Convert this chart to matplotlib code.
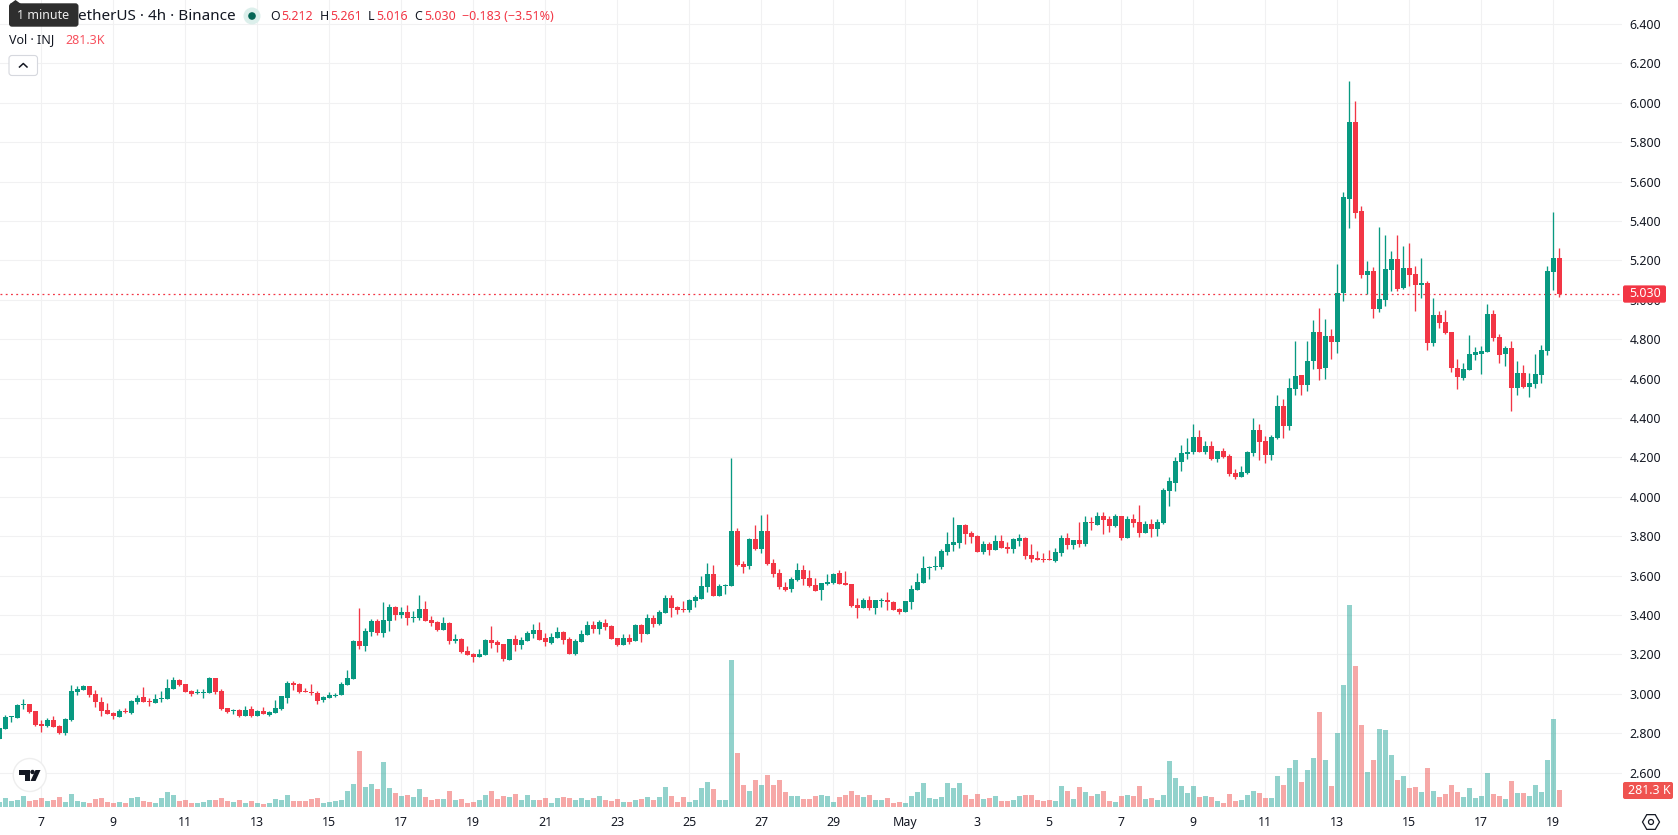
import matplotlib
matplotlib.use('Agg')
import numpy as np
import matplotlib.pyplot as plt
from matplotlib.patches import FancyBboxPatch, Circle, Polygon, RegularPolygon

W, H = 1678, 835
plt.rcParams['font.family'] = ['Noto Sans', 'DejaVu Sans']

# INJ/USDT 4h candles
opens = [2.771,2.823,2.881,2.879,2.945,2.948,2.913,2.847,2.837,2.867,2.837,2.801,2.867,3.009,3.019,3.040,2.999,2.958,2.918,2.902,
         2.882,2.914,2.901,2.958,2.984,2.963,2.953,2.974,2.974,3.024,3.070,3.050,3.014,3.006,3.006,3.004,3.080,3.014,2.928,2.914,
         2.918,2.887,2.923,2.887,2.913,2.892,2.902,2.923,2.979,3.055,3.050,3.014,3.011,3.004,2.968,2.979,2.989,2.994,3.045,3.075,
         3.268,3.243,3.314,3.370,3.309,3.370,3.441,3.400,3.415,3.386,3.385,3.430,3.375,3.364,3.324,3.359,3.268,3.278,3.217,3.202,
         3.187,3.197,3.273,3.263,3.253,3.172,3.278,3.248,3.268,3.304,3.324,3.283,3.258,3.283,3.314,3.278,3.202,3.263,3.298,3.349,
         3.329,3.359,3.344,3.283,3.248,3.283,3.268,3.349,3.304,3.385,3.354,3.410,3.486,3.441,3.430,3.425,3.471,3.481,3.542,3.608,
         3.496,3.549,3.547,3.826,3.659,3.649,3.786,3.735,3.826,3.664,3.613,3.542,3.532,3.578,3.628,3.588,3.552,3.527,3.557,3.562,
         3.613,3.562,3.557,3.451,3.436,3.476,3.436,3.471,3.476,3.466,3.430,3.415,3.466,3.527,3.562,3.638,3.644,3.644,3.720,3.755,
         3.765,3.857,3.816,3.801,3.720,3.760,3.730,3.776,3.745,3.735,3.776,3.791,3.705,3.689,3.684,3.684,3.674,3.715,3.791,3.755,
         3.781,3.760,3.872,3.857,3.903,3.887,3.852,3.903,3.791,3.887,3.872,3.816,3.862,3.836,3.867,4.029,4.070,4.177,4.217,4.227,
         4.304,4.227,4.258,4.192,4.232,4.207,4.121,4.100,4.121,4.222,4.339,4.283,4.212,4.298,4.461,4.359,4.547,4.618,4.568,4.689,
         4.837,4.654,4.816,4.786,5.035,5.512,5.903,5.451,5.126,5.146,4.953,4.999,5.151,5.207,5.060,5.161,5.131,5.075,5.085,4.781,
         4.923,4.887,4.837,4.654,4.603,4.644,4.720,4.725,4.735,4.928,4.811,4.725,4.755,4.552,4.628,4.557,4.573,4.618,4.740,5.141,
         5.212]
highs = [2.825,2.892,2.886,2.950,2.972,2.948,2.913,2.865,2.877,2.886,2.842,2.875,3.045,3.040,3.045,3.040,3.019,2.984,2.953,2.908,
         2.921,2.926,2.968,2.996,3.034,2.979,2.999,3.014,3.075,3.085,3.075,3.050,3.019,3.024,3.024,3.085,3.080,3.024,2.928,2.923,
         2.923,2.938,2.938,2.918,2.933,2.913,2.968,2.989,3.065,3.065,3.055,3.029,3.050,3.014,2.989,3.009,3.004,3.060,3.121,3.273,
         3.436,3.334,3.380,3.380,3.466,3.456,3.446,3.441,3.451,3.420,3.501,3.471,3.395,3.370,3.390,3.364,3.304,3.281,3.243,3.205,
         3.227,3.278,3.344,3.273,3.253,3.278,3.298,3.288,3.319,3.354,3.364,3.309,3.309,3.339,3.319,3.288,3.278,3.324,3.370,3.370,
         3.375,3.380,3.349,3.283,3.304,3.304,3.354,3.354,3.405,3.400,3.425,3.501,3.501,3.446,3.471,3.481,3.501,3.598,3.664,3.654,
         3.557,3.557,4.197,3.842,3.674,3.791,3.857,3.908,3.913,3.684,3.633,3.568,3.593,3.664,3.654,3.628,3.588,3.562,3.608,3.613,
         3.628,3.623,3.557,3.486,3.486,3.496,3.476,3.486,3.517,3.471,3.436,3.471,3.552,3.613,3.699,3.649,3.699,3.735,3.821,3.897,
         3.857,3.862,3.826,3.806,3.776,3.771,3.806,3.806,3.771,3.791,3.811,3.796,3.760,3.725,3.715,3.730,3.740,3.806,3.816,3.781,
         3.872,3.903,3.897,3.923,3.923,3.903,3.913,3.903,3.903,3.913,3.958,3.877,3.887,3.887,4.045,4.100,4.202,4.263,4.298,4.370,
         4.339,4.283,4.283,4.232,4.248,4.217,4.141,4.156,4.232,4.400,4.370,4.309,4.314,4.517,4.496,4.603,4.791,4.618,4.791,4.898,
         4.958,4.903,4.852,5.182,5.547,6.111,6.009,5.476,5.197,5.167,5.370,5.329,5.248,5.329,5.273,5.288,5.172,5.212,5.095,5.009,
         4.943,4.948,4.837,4.700,4.679,4.821,4.760,4.766,4.979,4.948,4.826,4.766,4.791,4.689,4.669,4.628,4.725,4.771,5.172,5.446,
         5.261]
lows = [2.771,2.823,2.859,2.879,2.924,2.904,2.838,2.806,2.831,2.831,2.796,2.793,2.862,2.996,3.019,2.984,2.933,2.887,2.897,2.872,
        2.882,2.902,2.897,2.948,2.958,2.938,2.953,2.958,2.974,3.024,3.040,3.009,2.989,2.999,2.979,3.004,2.999,2.918,2.902,2.897,
        2.884,2.887,2.882,2.887,2.897,2.887,2.902,2.918,2.953,3.019,3.004,3.007,2.994,2.948,2.958,2.979,2.985,2.994,3.045,3.075,
        3.227,3.217,3.293,3.298,3.288,3.319,3.375,3.385,3.349,3.364,3.375,3.370,3.344,3.319,3.324,3.253,3.258,3.209,3.197,3.161,
        3.187,3.197,3.232,3.212,3.166,3.172,3.217,3.227,3.268,3.283,3.273,3.243,3.253,3.283,3.253,3.202,3.197,3.263,3.298,3.309,
        3.304,3.324,3.278,3.243,3.248,3.253,3.268,3.263,3.304,3.339,3.349,3.410,3.390,3.405,3.415,3.415,3.441,3.481,3.517,3.496,
        3.496,3.507,3.547,3.649,3.613,3.633,3.730,3.715,3.654,3.593,3.532,3.522,3.517,3.573,3.552,3.542,3.522,3.476,3.552,3.557,
        3.557,3.552,3.441,3.385,3.436,3.425,3.405,3.441,3.425,3.425,3.405,3.415,3.430,3.527,3.562,3.583,3.628,3.633,3.705,3.725,
        3.740,3.760,3.765,3.720,3.710,3.705,3.730,3.740,3.715,3.715,3.750,3.684,3.669,3.679,3.669,3.679,3.669,3.699,3.735,3.735,
        3.745,3.750,3.831,3.857,3.811,3.821,3.847,3.781,3.791,3.847,3.796,3.816,3.796,3.801,3.862,3.953,4.029,4.131,4.192,4.217,
        4.227,4.217,4.187,4.177,4.197,4.106,4.090,4.100,4.116,4.207,4.187,4.172,4.187,4.293,4.299,4.339,4.517,4.517,4.537,4.649,
        4.593,4.598,4.700,4.730,4.994,5.364,5.415,5.111,5.029,4.908,4.938,4.969,5.045,5.045,5.055,5.070,4.943,5.009,4.745,4.766,
        4.857,4.826,4.634,4.547,4.593,4.644,4.694,4.623,4.735,4.791,4.679,4.664,4.436,4.517,4.552,4.507,4.552,4.578,4.720,5.050,
        5.016]
closes = [2.825,2.882,2.886,2.943,2.950,2.909,2.842,2.838,2.867,2.833,2.801,2.872,3.014,3.024,3.040,2.994,2.958,2.913,2.897,2.887,
          2.913,2.909,2.963,2.979,2.958,2.958,2.974,2.979,3.029,3.070,3.045,3.009,2.999,3.011,3.011,3.080,3.009,2.923,2.908,2.919,
          2.887,2.918,2.887,2.913,2.897,2.908,2.928,2.989,3.055,3.045,3.009,3.009,3.006,2.963,2.984,2.994,2.994,3.050,3.080,3.268,
          3.243,3.319,3.370,3.309,3.375,3.441,3.400,3.415,3.385,3.390,3.430,3.370,3.359,3.324,3.359,3.268,3.278,3.212,3.197,3.187,
          3.202,3.273,3.258,3.248,3.177,3.278,3.248,3.273,3.309,3.324,3.273,3.263,3.288,3.314,3.273,3.202,3.268,3.304,3.349,3.329,
          3.364,3.339,3.278,3.248,3.283,3.263,3.349,3.304,3.385,3.354,3.415,3.486,3.436,3.425,3.425,3.476,3.491,3.547,3.608,3.496,
          3.547,3.554,3.826,3.654,3.644,3.786,3.735,3.826,3.659,3.608,3.542,3.527,3.583,3.628,3.583,3.547,3.522,3.562,3.568,3.608,
          3.557,3.552,3.446,3.436,3.476,3.436,3.476,3.476,3.466,3.425,3.415,3.471,3.532,3.568,3.638,3.644,3.649,3.725,3.760,3.771,
          3.857,3.811,3.796,3.720,3.760,3.730,3.776,3.740,3.735,3.786,3.791,3.699,3.684,3.679,3.679,3.679,3.720,3.791,3.755,3.781,
          3.760,3.872,3.867,3.903,3.882,3.852,3.903,3.791,3.887,3.867,3.816,3.862,3.836,3.872,4.034,4.080,4.182,4.222,4.227,4.304,
          4.227,4.258,4.192,4.232,4.202,4.116,4.100,4.126,4.227,4.339,4.278,4.212,4.304,4.461,4.359,4.552,4.613,4.568,4.689,4.837,
          4.649,4.816,4.786,5.035,5.522,5.903,5.441,5.126,5.146,4.953,5.004,5.156,5.207,5.055,5.161,5.126,5.075,5.085,4.781,4.923,
          4.882,4.831,4.654,4.608,4.649,4.725,4.735,4.740,4.928,4.806,4.720,4.755,4.552,4.628,4.557,4.578,4.623,4.745,5.146,5.212,
          5.030]
# volume in thousands of INJ
volumes = [83,149,99,116,182,99,116,149,99,116,166,83,215,99,83,66,132,149,83,66,
           83,66,149,166,99,83,66,149,248,199,99,116,66,66,83,116,116,149,99,83,
           116,66,99,66,50,66,132,116,199,99,99,99,132,149,66,83,99,116,265,381,
           927,331,381,298,745,314,232,182,199,166,298,166,116,132,132,265,116,132,66,83,
           116,199,265,132,182,166,215,116,199,116,116,149,66,149,166,149,116,149,116,149,
           182,116,99,132,83,83,116,132,166,116,166,331,182,83,166,83,116,314,414,298,
           116,116,2433,894,364,265,447,364,530,364,447,248,182,182,132,132,182,199,182,83,
           166,199,265,199,166,199,116,116,149,66,83,66,182,248,397,149,132,166,397,314,
           397,199,132,215,132,149,182,99,99,116,182,199,199,116,99,116,99,348,265,132,
           331,248,182,215,265,99,83,182,199,182,348,132,149,116,199,761,480,348,232,348,
           166,182,166,99,66,215,99,116,199,265,232,149,149,513,364,645,778,414,612,811,
           1572,778,348,1225,2019,3343,2334,1357,579,778,1291,1274,861,447,513,314,331,248,645,265,
           166,215,364,248,166,314,149,182,563,215,182,132,430,232,232,182,364,248,778,1456,
           281.3]

price_ticks = [2.6,2.8,3.0,3.2,3.4,3.6,3.8,4.0,4.2,4.4,4.6,4.8,5.0,5.2,5.4,5.6,5.8,6.0,6.2,6.4]
date_ticks = list(range(7, 261, 12))
date_labels = ['7','9','11','13','15','17','19','21','23','25','27','29','May','3','5','7','9','11','13','15','17','19']

GREEN = '#089981'
RED = '#F23645'
TEXT = '#131722'

opens, highs, lows, closes = map(np.array, (opens, highs, lows, closes))
volumes = np.array(volumes)
idx = np.arange(len(closes))
up = closes >= opens
colors = np.where(up, GREEN, RED)
vol_colors = np.where(up, '#26A69A80', '#EF535080')

fig = plt.figure(figsize=(W/100, H/100), dpi=100, facecolor='white')
ax = fig.add_axes([0, (H-807)/H, 1622/W, 807/H])
ymin, ymax = 2.4254, 6.5218
ax.set_xlim(0.117, 270.45)
ax.set_ylim(ymin, ymax)

ax.yaxis.tick_right()
ax.set_yticks(price_ticks)
ax.set_yticklabels(['%.3f' % p for p in price_ticks])
ax.set_xticks(date_ticks)
ax.set_xticklabels(date_labels)
ax.tick_params(axis='y', length=0, pad=5.5, labelsize=8.9, labelcolor=TEXT)
ax.tick_params(axis='x', length=0, pad=6.5, labelsize=8.9, labelcolor=TEXT)
ax.get_xticklabels()[date_labels.index('May')].set_fontweight('bold')
ax.grid(True, color='#F1F1F2', lw=0.8)
ax.set_axisbelow(True)
for s in ax.spines.values():
    s.set_visible(False)

# volume shares the pane, 16.55K per pixel from the bottom edge
vol_scale = (ymax-ymin)/(807*16.55)
ax.bar(idx, volumes*vol_scale, bottom=ymin, width=5/6, color=vol_colors, lw=0, zorder=1.5)

ax.vlines(idx, lows, highs, colors=colors, lw=0.95, zorder=3)
ax.bar(idx, np.abs(closes-opens), bottom=np.minimum(opens, closes), width=5/6, color=colors, lw=0, zorder=4)
ax.axhline(closes[-1], color=RED, lw=0.9, ls=(0, (1.5, 2.7)), zorder=2)

# chart chrome is laid out in pixels on top of everything
ui = fig.add_axes([0, 0, 1, 1], zorder=20)
ui.set_xlim(0, W)
ui.set_ylim(H, 0)
ui.axis('off')

def box(x0, y0, x1, y1, fc, ec='none', r=2, lw=0):
    ui.add_patch(FancyBboxPatch((x0+r, y0+r), x1-x0-2*r, y1-y0-2*r, boxstyle='round,pad=%g,rounding_size=%g' % (r, r),
                                fc=fc, ec=ec, lw=lw))

# last price and last volume labels on the scale
fig.canvas.draw()
last_y = H - ax.transData.transform((0, closes[-1]))[1]
box(1623, last_y-8.5, 1666, last_y+8.8, RED)
ui.text(1645, last_y, '%.3f' % closes[-1], color='white', fontsize=8.9, ha='center', va='center')
box(1623, 782, 1673, 799, '#EF5350')
ui.text(1649, 790.5, '281.3 K', color='white', fontsize=8.9, ha='center', va='center')

# settings hexagon under the scale
ui.add_patch(RegularPolygon((1651, 822), 6, radius=8.5, orientation=np.pi/6, fc='none', ec=TEXT, lw=0.9))
ui.add_patch(Circle((1651, 822), 2.5, fc='none', ec=TEXT, lw=0.9))

# header legend
ui.text(78, 16, 'etherUS · 4h · Binance', color=TEXT, fontsize=11, va='center')
ui.add_patch(Circle((252, 16), 8.5, fc='#DCEFEB', ec='none'))
ui.add_patch(Circle((252, 16), 3.8, fc='#056656', ec='none'))
for x, lab, xv, val in [(270, 'O', 281, '5.212'), (319.5, 'H', 330, '5.261'), (368, 'L', 376, '5.016'), (414.5, 'C', 424, '5.030')]:
    ui.text(x, 16, lab, color=TEXT, fontsize=8.9, va='center')
    ui.text(xv, 16, val, color=RED, fontsize=8.9, va='center')
ui.text(462, 16, '\u22120.183 (\u22123.51%)', color=RED, fontsize=9, va='center')
ui.text(9, 40, 'Vol · INJ', color=TEXT, fontsize=9, va='center')
ui.text(65, 40, '281.3K', color='#F7525F', fontsize=9, va='center')

# collapse button
box(9, 55.5, 37.5, 75.5, 'white', ec='#D6D8DE', r=3, lw=0.8)
ui.plot([19.5, 23.3, 27], [67, 63.5, 67], color=TEXT, lw=1.1)

# tooltip
ui.add_patch(Polygon([[10, 4], [15.5, 0], [21, 4]], fc='#2E2E2E', ec='none'))
box(9, 3.3, 78.5, 26.7, '#2E2E2E', r=3)
ui.text(43.5, 15.5, '1 minute', color='#EDEDED', fontsize=9, ha='center', va='center')

# logo badge
ui.add_patch(Circle((29.7, 775), 16.5, fc='white', ec='#EEEEEE', lw=1))
ui.add_patch(Polygon([[19, 770], [29.5, 770], [29.5, 781], [24.5, 781], [24.5, 774.5], [19, 774.5]], fc='#131722', ec='none'))
ui.add_patch(Circle((32.5, 772), 2.2, fc='#131722', ec='none'))
ui.add_patch(Polygon([[35.5, 770], [40.5, 770], [35.5, 781], [30.5, 781]], fc='#131722', ec='none'))

fig.savefig('out.png', dpi=100)
